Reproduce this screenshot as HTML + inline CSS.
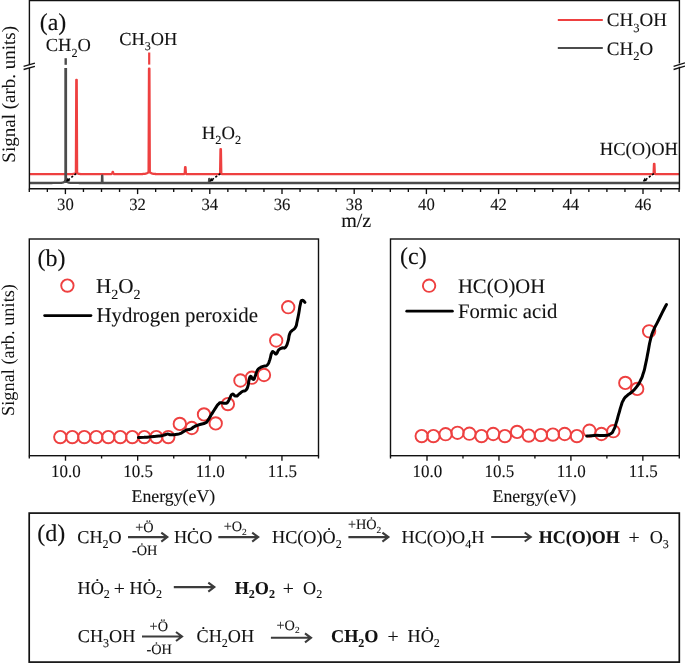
<!DOCTYPE html>
<html lang="en"><head><meta charset="utf-8"><title>Figure</title>
<style>html,body{margin:0;padding:0;background:#fff}svg{display:block}</style></head>
<body>
<svg width="685" height="663" viewBox="0 0 685 663" font-family="Liberation Serif, serif" text-rendering="geometricPrecision">
<rect width="685" height="663" fill="#fff"/>
<path d="M29.4,174.2 L29.9,174.20 L30.4,174.20 L30.9,174.20 L31.4,174.20 L31.9,174.20 L32.4,174.20 L32.9,174.20 L33.4,174.20 L33.9,174.20 L34.4,174.20 L34.9,174.20 L35.4,174.20 L35.9,174.20 L36.4,174.20 L36.9,174.20 L37.4,174.20 L37.9,174.20 L38.4,174.20 L38.9,174.20 L39.4,174.20 L39.9,174.20 L40.4,174.20 L40.9,174.20 L41.4,174.20 L41.9,174.20 L42.4,174.20 L42.9,174.20 L43.4,174.20 L43.9,174.20 L44.4,174.20 L44.9,174.20 L45.4,174.20 L45.9,174.20 L46.4,174.20 L46.9,174.20 L47.4,174.20 L47.9,174.20 L48.4,174.20 L48.9,174.20 L49.4,174.20 L49.9,174.20 L50.4,174.20 L50.9,174.19 L51.4,174.19 L51.9,174.19 L52.4,174.19 L52.9,174.19 L53.4,174.19 L53.9,174.19 L54.4,174.19 L54.9,174.19 L55.4,174.19 L55.9,174.19 L56.4,174.19 L56.9,174.19 L57.4,174.19 L57.9,174.19 L58.4,174.19 L58.9,174.19 L59.4,174.19 L59.9,174.19 L60.4,174.19 L60.9,174.19 L61.4,174.19 L61.9,174.19 L62.4,174.19 L62.9,174.18 L63.4,174.18 L63.9,174.18 L64.4,174.18 L64.9,174.18 L65.4,174.18 L65.9,174.18 L66.4,174.17 L66.9,174.17 L67.4,174.17 L67.9,174.16 L68.4,174.16 L68.9,174.15 L69.4,174.15 L69.9,174.14 L70.4,174.13 L70.9,174.12 L71.4,174.10 L71.9,174.08 L72.4,174.06 L72.9,174.02 L73.4,173.97 L73.9,173.90 L74.4,173.79 L74.9,173.64 L75.9,173.00 L76.3,79.8 L76.7,79.8 L77.1,173.00 L78.0,173.60 L78.5,173.77 L79.0,173.88 L79.5,173.96 L80.0,174.01 L80.5,174.05 L81.0,174.08 L81.5,174.10 L82.0,174.11 L82.5,174.13 L83.0,174.14 L83.5,174.15 L84.0,174.15 L84.5,174.16 L85.0,174.16 L85.5,174.17 L86.0,174.17 L86.5,174.17 L87.0,174.17 L87.5,174.18 L88.0,174.18 L88.5,174.18 L89.0,174.18 L89.5,174.18 L90.0,174.18 L90.5,174.18 L91.0,174.18 L91.5,174.19 L92.0,174.19 L92.5,174.19 L93.0,174.19 L93.5,174.19 L94.0,174.19 L94.5,174.19 L95.0,174.19 L95.5,174.19 L96.0,174.19 L96.5,174.19 L97.0,174.19 L97.5,174.19 L98.0,174.19 L98.5,174.19 L99.0,174.19 L99.5,174.19 L100.0,174.19 L100.5,174.19 L101.0,174.19 L101.5,174.19 L102.0,174.19 L102.5,174.19 L103.0,174.19 L103.5,174.19 L104.0,174.19 L104.5,174.19 L105.0,174.19 L105.5,174.19 L106.0,174.19 L106.5,174.19 L107.0,174.19 L107.5,174.19 L108.0,174.19 L108.5,174.19 L109.0,174.19 L109.5,174.19 L110.0,174.19 L110.5,174.19 L111.0,174.19 L112.2,173.59 L112.6,172.0 L113.0,172.0 L113.39999999999999,173.59 L114.3,174.19 L114.8,174.19 L115.3,174.19 L115.8,174.19 L116.3,174.19 L116.8,174.19 L117.3,174.19 L117.8,174.19 L118.3,174.19 L118.8,174.19 L119.3,174.19 L119.8,174.19 L120.3,174.19 L120.8,174.19 L121.3,174.19 L121.8,174.19 L122.3,174.19 L122.8,174.19 L123.3,174.19 L123.8,174.19 L124.3,174.18 L124.8,174.18 L125.3,174.18 L125.8,174.18 L126.3,174.18 L126.8,174.18 L127.3,174.18 L127.8,174.18 L128.3,174.18 L128.8,174.18 L129.3,174.18 L129.8,174.18 L130.3,174.17 L130.8,174.17 L131.3,174.17 L131.8,174.17 L132.3,174.17 L132.8,174.17 L133.3,174.16 L133.8,174.16 L134.3,174.16 L134.8,174.16 L135.3,174.15 L135.8,174.15 L136.3,174.15 L136.8,174.14 L137.3,174.14 L137.8,174.13 L138.3,174.13 L138.8,174.12 L139.3,174.11 L139.8,174.10 L140.3,174.09 L140.8,174.08 L141.3,174.07 L141.8,174.05 L142.3,174.03 L142.8,174.00 L143.3,173.97 L143.8,173.93 L144.3,173.89 L144.8,173.82 L145.3,173.74 L145.8,173.63 L146.3,173.49 L146.8,173.30 L147.3,173.04 L148.6,172.19 L149.0,68.6 L149.39999999999998,68.6 L149.79999999999998,172.19 L150.7,172.79 L151.2,173.10 L151.7,173.34 L152.2,173.52 L152.7,173.66 L153.2,173.76 L153.7,173.84 L154.2,173.90 L154.7,173.94 L155.2,173.98 L155.7,174.01 L156.2,174.03 L156.7,174.05 L157.2,174.07 L157.7,174.08 L158.2,174.10 L158.7,174.11 L159.2,174.11 L159.7,174.12 L160.2,174.13 L160.7,174.14 L161.2,174.14 L161.7,174.14 L162.2,174.15 L162.7,174.15 L163.2,174.16 L163.7,174.16 L164.2,174.16 L164.7,174.16 L165.2,174.17 L165.7,174.17 L166.2,174.17 L166.7,174.17 L167.2,174.17 L167.7,174.17 L168.2,174.18 L168.7,174.18 L169.2,174.18 L169.7,174.18 L170.2,174.18 L170.7,174.18 L171.2,174.18 L171.7,174.18 L172.2,174.18 L172.7,174.18 L173.2,174.18 L173.7,174.19 L174.2,174.19 L174.7,174.19 L175.2,174.19 L175.7,174.19 L176.2,174.19 L176.7,174.19 L177.2,174.19 L177.7,174.19 L178.2,174.19 L178.7,174.19 L179.2,174.19 L179.7,174.19 L180.2,174.19 L180.7,174.19 L181.2,174.19 L181.7,174.19 L182.2,174.19 L182.7,174.19 L183.2,174.19 L183.7,174.19 L184.70000000000002,173.59 L185.10000000000002,167.1 L185.5,167.1 L185.9,173.59 L186.8,174.19 L187.3,174.19 L187.8,174.19 L188.3,174.19 L188.8,174.19 L189.3,174.19 L189.8,174.19 L190.3,174.19 L190.8,174.19 L191.3,174.19 L191.8,174.19 L192.3,174.20 L192.8,174.20 L193.3,174.20 L193.8,174.20 L194.3,174.20 L194.8,174.20 L195.3,174.20 L195.8,174.20 L196.3,174.20 L196.8,174.20 L197.3,174.20 L197.8,174.20 L198.3,174.20 L198.8,174.20 L199.3,174.20 L199.8,174.20 L200.3,174.20 L200.8,174.20 L201.3,174.20 L201.8,174.20 L202.3,174.20 L202.8,174.20 L203.3,174.20 L203.8,174.20 L204.3,174.20 L204.8,174.20 L205.3,174.20 L205.8,174.20 L206.3,174.20 L206.8,174.20 L207.3,174.20 L207.8,174.20 L208.3,174.20 L208.8,174.20 L209.3,174.20 L209.8,174.20 L210.3,174.20 L210.8,174.20 L211.3,174.20 L211.8,174.20 L212.3,174.20 L212.8,174.20 L213.3,174.20 L213.8,174.20 L214.3,174.20 L214.8,174.20 L215.3,174.20 L215.8,174.20 L216.3,174.20 L216.8,174.20 L217.3,174.20 L217.8,174.20 L218.3,174.20 L218.8,174.20 L220.1,173.60 L220.5,149.2 L220.89999999999998,149.2 L221.29999999999998,173.60 L222.2,174.20 L222.7,174.20 L223.2,174.20 L223.7,174.20 L224.2,174.20 L224.7,174.20 L225.2,174.20 L225.7,174.20 L226.2,174.20 L226.7,174.20 L227.2,174.20 L227.7,174.20 L228.2,174.20 L228.7,174.20 L229.2,174.20 L229.7,174.20 L230.2,174.20 L230.7,174.20 L231.2,174.20 L231.7,174.20 L232.2,174.20 L232.7,174.20 L233.2,174.20 L233.7,174.20 L234.2,174.20 L234.7,174.20 L235.2,174.20 L235.7,174.20 L236.2,174.20 L236.7,174.20 L237.2,174.20 L237.7,174.20 L238.2,174.20 L238.7,174.20 L239.2,174.20 L239.7,174.20 L240.2,174.20 L240.7,174.20 L241.2,174.20 L241.7,174.20 L242.2,174.20 L242.7,174.20 L243.2,174.20 L243.7,174.20 L244.2,174.20 L244.7,174.20 L245.2,174.20 L245.7,174.20 L246.2,174.20 L246.7,174.20 L247.2,174.20 L247.7,174.20 L248.2,174.20 L248.7,174.20 L249.2,174.20 L249.7,174.20 L250.2,174.20 L250.7,174.20 L251.2,174.20 L251.7,174.20 L252.2,174.20 L252.7,174.20 L253.2,174.20 L253.7,174.20 L254.2,174.20 L254.7,174.20 L255.2,174.20 L255.7,174.20 L256.2,174.20 L256.7,174.20 L257.2,174.20 L257.7,174.20 L258.2,174.20 L258.7,174.20 L259.2,174.20 L259.7,174.20 L260.2,174.20 L260.7,174.20 L261.2,174.20 L261.7,174.20 L262.2,174.20 L262.7,174.20 L263.2,174.20 L263.7,174.20 L264.2,174.20 L264.7,174.20 L265.2,174.20 L265.7,174.20 L266.2,174.20 L266.7,174.20 L267.2,174.20 L267.7,174.20 L268.2,174.20 L268.7,174.20 L269.2,174.20 L269.7,174.20 L270.2,174.20 L270.7,174.20 L271.2,174.20 L271.7,174.20 L272.2,174.20 L272.7,174.20 L273.2,174.20 L273.7,174.20 L274.2,174.20 L274.7,174.20 L275.2,174.20 L275.7,174.20 L276.2,174.20 L276.7,174.20 L277.2,174.20 L277.7,174.20 L278.2,174.20 L278.7,174.20 L279.2,174.20 L279.7,174.20 L280.2,174.20 L280.7,174.20 L281.2,174.20 L281.7,174.20 L282.2,174.20 L282.7,174.20 L283.2,174.20 L283.7,174.20 L284.2,174.20 L284.7,174.20 L285.2,174.20 L285.7,174.20 L286.2,174.20 L286.7,174.20 L287.2,174.20 L287.7,174.20 L288.2,174.20 L288.7,174.20 L289.2,174.20 L289.7,174.20 L290.2,174.20 L290.7,174.20 L291.2,174.20 L291.7,174.20 L292.2,174.20 L292.7,174.20 L293.2,174.20 L293.7,174.20 L294.2,174.20 L294.7,174.20 L295.2,174.20 L295.7,174.20 L296.2,174.20 L296.7,174.20 L297.2,174.20 L297.7,174.20 L298.2,174.20 L298.7,174.20 L299.2,174.20 L299.7,174.20 L300.2,174.20 L300.7,174.20 L301.2,174.20 L301.7,174.20 L302.2,174.20 L302.7,174.20 L303.2,174.20 L303.7,174.20 L304.2,174.20 L304.7,174.20 L305.2,174.20 L305.7,174.20 L306.2,174.20 L306.7,174.20 L307.2,174.20 L307.7,174.20 L308.2,174.20 L308.7,174.20 L309.2,174.20 L309.7,174.20 L310.2,174.20 L310.7,174.20 L311.2,174.20 L311.7,174.20 L312.2,174.20 L312.7,174.20 L313.2,174.20 L313.7,174.20 L314.2,174.20 L314.7,174.20 L315.2,174.20 L315.7,174.20 L316.2,174.20 L316.7,174.20 L317.2,174.20 L317.7,174.20 L318.2,174.20 L318.7,174.20 L319.2,174.20 L319.7,174.20 L320.2,174.20 L320.7,174.20 L321.2,174.20 L321.7,174.20 L322.2,174.20 L322.7,174.20 L323.2,174.20 L323.7,174.20 L324.2,174.20 L324.7,174.20 L325.2,174.20 L325.7,174.20 L326.2,174.20 L326.7,174.20 L327.2,174.20 L327.7,174.20 L328.2,174.20 L328.7,174.20 L329.2,174.20 L329.7,174.20 L330.2,174.20 L330.7,174.20 L331.2,174.20 L331.7,174.20 L332.2,174.20 L332.7,174.20 L333.2,174.20 L333.7,174.20 L334.2,174.20 L334.7,174.20 L335.2,174.20 L335.7,174.20 L336.2,174.20 L336.7,174.20 L337.2,174.20 L337.7,174.20 L338.2,174.20 L338.7,174.20 L339.2,174.20 L339.7,174.20 L340.2,174.20 L340.7,174.20 L341.2,174.20 L341.7,174.20 L342.2,174.20 L342.7,174.20 L343.2,174.20 L343.7,174.20 L344.2,174.20 L344.7,174.20 L345.2,174.20 L345.7,174.20 L346.2,174.20 L346.7,174.20 L347.2,174.20 L347.7,174.20 L348.2,174.20 L348.7,174.20 L349.2,174.20 L349.7,174.20 L350.2,174.20 L350.7,174.20 L351.2,174.20 L351.7,174.20 L352.2,174.20 L352.7,174.20 L353.2,174.20 L353.7,174.20 L354.2,174.20 L354.7,174.20 L355.2,174.20 L355.7,174.20 L356.2,174.20 L356.7,174.20 L357.2,174.20 L357.7,174.20 L358.2,174.20 L358.7,174.20 L359.2,174.20 L359.7,174.20 L360.2,174.20 L360.7,174.20 L361.2,174.20 L361.7,174.20 L362.2,174.20 L362.7,174.20 L363.2,174.20 L363.7,174.20 L364.2,174.20 L364.7,174.20 L365.2,174.20 L365.7,174.20 L366.2,174.20 L366.7,174.20 L367.2,174.20 L367.7,174.20 L368.2,174.20 L368.7,174.20 L369.2,174.20 L369.7,174.20 L370.2,174.20 L370.7,174.20 L371.2,174.20 L371.7,174.20 L372.2,174.20 L372.7,174.20 L373.2,174.20 L373.7,174.20 L374.2,174.20 L374.7,174.20 L375.2,174.20 L375.7,174.20 L376.2,174.20 L376.7,174.20 L377.2,174.20 L377.7,174.20 L378.2,174.20 L378.7,174.20 L379.2,174.20 L379.7,174.20 L380.2,174.20 L380.7,174.20 L381.2,174.20 L381.7,174.20 L382.2,174.20 L382.7,174.20 L383.2,174.20 L383.7,174.20 L384.2,174.20 L384.7,174.20 L385.2,174.20 L385.7,174.20 L386.2,174.20 L386.7,174.20 L387.2,174.20 L387.7,174.20 L388.2,174.20 L388.7,174.20 L389.2,174.20 L389.7,174.20 L390.2,174.20 L390.7,174.20 L391.2,174.20 L391.7,174.20 L392.2,174.20 L392.7,174.20 L393.2,174.20 L393.7,174.20 L394.2,174.20 L394.7,174.20 L395.2,174.20 L395.7,174.20 L396.2,174.20 L396.7,174.20 L397.2,174.20 L397.7,174.20 L398.2,174.20 L398.7,174.20 L399.2,174.20 L399.7,174.20 L400.2,174.20 L400.7,174.20 L401.2,174.20 L401.7,174.20 L402.2,174.20 L402.7,174.20 L403.2,174.20 L403.7,174.20 L404.2,174.20 L404.7,174.20 L405.2,174.20 L405.7,174.20 L406.2,174.20 L406.7,174.20 L407.2,174.20 L407.7,174.20 L408.2,174.20 L408.7,174.20 L409.2,174.20 L409.7,174.20 L410.2,174.20 L410.7,174.20 L411.2,174.20 L411.7,174.20 L412.2,174.20 L412.7,174.20 L413.2,174.20 L413.7,174.20 L414.2,174.20 L414.7,174.20 L415.2,174.20 L415.7,174.20 L416.2,174.20 L416.7,174.20 L417.2,174.20 L417.7,174.20 L418.2,174.20 L418.7,174.20 L419.2,174.20 L419.7,174.20 L420.2,174.20 L420.7,174.20 L421.2,174.20 L421.7,174.20 L422.2,174.20 L422.7,174.20 L423.2,174.20 L423.7,174.20 L424.2,174.20 L424.7,174.20 L425.2,174.20 L425.7,174.20 L426.2,174.20 L426.7,174.20 L427.2,174.20 L427.7,174.20 L428.2,174.20 L428.7,174.20 L429.2,174.20 L429.7,174.20 L430.2,174.20 L430.7,174.20 L431.2,174.20 L431.7,174.20 L432.2,174.20 L432.7,174.20 L433.2,174.20 L433.7,174.20 L434.2,174.20 L434.7,174.20 L435.2,174.20 L435.7,174.20 L436.2,174.20 L436.7,174.20 L437.2,174.20 L437.7,174.20 L438.2,174.20 L438.7,174.20 L439.2,174.20 L439.7,174.20 L440.2,174.20 L440.7,174.20 L441.2,174.20 L441.7,174.20 L442.2,174.20 L442.7,174.20 L443.2,174.20 L443.7,174.20 L444.2,174.20 L444.7,174.20 L445.2,174.20 L445.7,174.20 L446.2,174.20 L446.7,174.20 L447.2,174.20 L447.7,174.20 L448.2,174.20 L448.7,174.20 L449.2,174.20 L449.7,174.20 L450.2,174.20 L450.7,174.20 L451.2,174.20 L451.7,174.20 L452.2,174.20 L452.7,174.20 L453.2,174.20 L453.7,174.20 L454.2,174.20 L454.7,174.20 L455.2,174.20 L455.7,174.20 L456.2,174.20 L456.7,174.20 L457.2,174.20 L457.7,174.20 L458.2,174.20 L458.7,174.20 L459.2,174.20 L459.7,174.20 L460.2,174.20 L460.7,174.20 L461.2,174.20 L461.7,174.20 L462.2,174.20 L462.7,174.20 L463.2,174.20 L463.7,174.20 L464.2,174.20 L464.7,174.20 L465.2,174.20 L465.7,174.20 L466.2,174.20 L466.7,174.20 L467.2,174.20 L467.7,174.20 L468.2,174.20 L468.7,174.20 L469.2,174.20 L469.7,174.20 L470.2,174.20 L470.7,174.20 L471.2,174.20 L471.7,174.20 L472.2,174.20 L472.7,174.20 L473.2,174.20 L473.7,174.20 L474.2,174.20 L474.7,174.20 L475.2,174.20 L475.7,174.20 L476.2,174.20 L476.7,174.20 L477.2,174.20 L477.7,174.20 L478.2,174.20 L478.7,174.20 L479.2,174.20 L479.7,174.20 L480.2,174.20 L480.7,174.20 L481.2,174.20 L481.7,174.20 L482.2,174.20 L482.7,174.20 L483.2,174.20 L483.7,174.20 L484.2,174.20 L484.7,174.20 L485.2,174.20 L485.7,174.20 L486.2,174.20 L486.7,174.20 L487.2,174.20 L487.7,174.20 L488.2,174.20 L488.7,174.20 L489.2,174.20 L489.7,174.20 L490.2,174.20 L490.7,174.20 L491.2,174.20 L491.7,174.20 L492.2,174.20 L492.7,174.20 L493.2,174.20 L493.7,174.20 L494.2,174.20 L494.7,174.20 L495.2,174.20 L495.7,174.20 L496.2,174.20 L496.7,174.20 L497.2,174.20 L497.7,174.20 L498.2,174.20 L498.7,174.20 L499.2,174.20 L499.7,174.20 L500.2,174.20 L500.7,174.20 L501.2,174.20 L501.7,174.20 L502.2,174.20 L502.7,174.20 L503.2,174.20 L503.7,174.20 L504.2,174.20 L504.7,174.20 L505.2,174.20 L505.7,174.20 L506.2,174.20 L506.7,174.20 L507.2,174.20 L507.7,174.20 L508.2,174.20 L508.7,174.20 L509.2,174.20 L509.7,174.20 L510.2,174.20 L510.7,174.20 L511.2,174.20 L511.7,174.20 L512.2,174.20 L512.7,174.20 L513.2,174.20 L513.7,174.20 L514.2,174.20 L514.7,174.20 L515.2,174.20 L515.7,174.20 L516.2,174.20 L516.7,174.20 L517.2,174.20 L517.7,174.20 L518.2,174.20 L518.7,174.20 L519.2,174.20 L519.7,174.20 L520.2,174.20 L520.7,174.20 L521.2,174.20 L521.7,174.20 L522.2,174.20 L522.7,174.20 L523.2,174.20 L523.7,174.20 L524.2,174.20 L524.7,174.20 L525.2,174.20 L525.7,174.20 L526.2,174.20 L526.7,174.20 L527.2,174.20 L527.7,174.20 L528.2,174.20 L528.7,174.20 L529.2,174.20 L529.7,174.20 L530.2,174.20 L530.7,174.20 L531.2,174.20 L531.7,174.20 L532.2,174.20 L532.7,174.20 L533.2,174.20 L533.7,174.20 L534.2,174.20 L534.7,174.20 L535.2,174.20 L535.7,174.20 L536.2,174.20 L536.7,174.20 L537.2,174.20 L537.7,174.20 L538.2,174.20 L538.7,174.20 L539.2,174.20 L539.7,174.20 L540.2,174.20 L540.7,174.20 L541.2,174.20 L541.7,174.20 L542.2,174.20 L542.7,174.20 L543.2,174.20 L543.7,174.20 L544.2,174.20 L544.7,174.20 L545.2,174.20 L545.7,174.20 L546.2,174.20 L546.7,174.20 L547.2,174.20 L547.7,174.20 L548.2,174.20 L548.7,174.20 L549.2,174.20 L549.7,174.20 L550.2,174.20 L550.7,174.20 L551.2,174.20 L551.7,174.20 L552.2,174.20 L552.7,174.20 L553.2,174.20 L553.7,174.20 L554.2,174.20 L554.7,174.20 L555.2,174.20 L555.7,174.20 L556.2,174.20 L556.7,174.20 L557.2,174.20 L557.7,174.20 L558.2,174.20 L558.7,174.20 L559.2,174.20 L559.7,174.20 L560.2,174.20 L560.7,174.20 L561.2,174.20 L561.7,174.20 L562.2,174.20 L562.7,174.20 L563.2,174.20 L563.7,174.20 L564.2,174.20 L564.7,174.20 L565.2,174.20 L565.7,174.20 L566.2,174.20 L566.7,174.20 L567.2,174.20 L567.7,174.20 L568.2,174.20 L568.7,174.20 L569.2,174.20 L569.7,174.20 L570.2,174.20 L570.7,174.20 L571.2,174.20 L571.7,174.20 L572.2,174.20 L572.7,174.20 L573.2,174.20 L573.7,174.20 L574.2,174.20 L574.7,174.20 L575.2,174.20 L575.7,174.20 L576.2,174.20 L576.7,174.20 L577.2,174.20 L577.7,174.20 L578.2,174.20 L578.7,174.20 L579.2,174.20 L579.7,174.20 L580.2,174.20 L580.7,174.20 L581.2,174.20 L581.7,174.20 L582.2,174.20 L582.7,174.20 L583.2,174.20 L583.7,174.20 L584.2,174.20 L584.7,174.20 L585.2,174.20 L585.7,174.20 L586.2,174.20 L586.7,174.20 L587.2,174.20 L587.7,174.20 L588.2,174.20 L588.7,174.20 L589.2,174.20 L589.7,174.20 L590.2,174.20 L590.7,174.20 L591.2,174.20 L591.7,174.20 L592.2,174.20 L592.7,174.20 L593.2,174.20 L593.7,174.20 L594.2,174.20 L594.7,174.20 L595.2,174.20 L595.7,174.20 L596.2,174.20 L596.7,174.20 L597.2,174.20 L597.7,174.20 L598.2,174.20 L598.7,174.20 L599.2,174.20 L599.7,174.20 L600.2,174.20 L600.7,174.20 L601.2,174.20 L601.7,174.20 L602.2,174.20 L602.7,174.20 L603.2,174.20 L603.7,174.20 L604.2,174.20 L604.7,174.20 L605.2,174.20 L605.7,174.20 L606.2,174.20 L606.7,174.20 L607.2,174.20 L607.7,174.20 L608.2,174.20 L608.7,174.20 L609.2,174.20 L609.7,174.20 L610.2,174.20 L610.7,174.20 L611.2,174.20 L611.7,174.20 L612.2,174.20 L612.7,174.20 L613.2,174.20 L613.7,174.20 L614.2,174.20 L614.7,174.20 L615.2,174.20 L615.7,174.20 L616.2,174.20 L616.7,174.20 L617.2,174.20 L617.7,174.20 L618.2,174.20 L618.7,174.20 L619.2,174.20 L619.7,174.20 L620.2,174.20 L620.7,174.20 L621.2,174.20 L621.7,174.20 L622.2,174.20 L622.7,174.20 L623.2,174.20 L623.7,174.20 L624.2,174.20 L624.7,174.20 L625.2,174.20 L625.7,174.20 L626.2,174.20 L626.7,174.20 L627.2,174.20 L627.7,174.20 L628.2,174.20 L628.7,174.20 L629.2,174.20 L629.7,174.20 L630.2,174.20 L630.7,174.20 L631.2,174.20 L631.7,174.20 L632.2,174.20 L632.7,174.20 L633.2,174.20 L633.7,174.20 L634.2,174.20 L634.7,174.20 L635.2,174.20 L635.7,174.20 L636.2,174.20 L636.7,174.20 L637.2,174.20 L637.7,174.20 L638.2,174.20 L638.7,174.20 L639.2,174.20 L639.7,174.20 L640.2,174.20 L640.7,174.20 L641.2,174.20 L641.7,174.20 L642.2,174.20 L642.7,174.20 L643.2,174.20 L643.7,174.20 L644.2,174.20 L644.7,174.20 L645.2,174.20 L645.7,174.20 L646.2,174.20 L646.7,174.20 L647.2,174.20 L647.7,174.20 L648.2,174.20 L648.7,174.20 L649.2,174.20 L649.7,174.20 L650.2,174.20 L650.7,174.20 L651.2,174.20 L651.7,174.20 L652.2,174.20 L653.6,173.60 L654.0,163.8 L654.4000000000001,163.8 L654.8000000000001,173.60 L655.7,174.20 L657.7,174.20 L659.7,174.20 L661.7,174.20 L663.7,174.20 L665.7,174.20 L667.7,174.20 L669.7,174.20 L671.7,174.20 L673.7,174.20 L675.7,174.20 L677.7,174.20 L679.4,174.2" fill="none" stroke="#ee4040" stroke-width="2.3" stroke-linejoin="round"/>
<line x1="149.2" y1="52.5" x2="149.2" y2="64.6" stroke="#ee4040" stroke-width="2.2"/>
<path d="M29.4,183.0 L29.8,183.00 L30.2,183.00 L30.6,183.00 L31.0,183.00 L31.4,183.00 L31.8,183.00 L32.2,183.00 L32.6,183.00 L33.0,183.00 L33.4,183.00 L33.8,183.00 L34.2,183.00 L34.6,183.00 L35.0,183.00 L35.4,183.00 L35.8,183.00 L36.2,182.99 L36.6,182.99 L37.0,182.99 L37.4,182.99 L37.8,182.99 L38.2,182.99 L38.6,182.99 L39.0,182.99 L39.4,182.99 L39.8,182.99 L40.2,182.99 L40.6,182.99 L41.0,182.99 L41.4,182.99 L41.8,182.99 L42.2,182.99 L42.6,182.99 L43.0,182.99 L43.4,182.99 L43.8,182.99 L44.2,182.99 L44.6,182.99 L45.0,182.99 L45.4,182.99 L45.8,182.99 L46.2,182.99 L46.6,182.99 L47.0,182.99 L47.4,182.99 L47.8,182.99 L48.2,182.99 L48.6,182.99 L49.0,182.98 L49.4,182.98 L49.8,182.98 L50.2,182.98 L50.6,182.98 L51.0,182.98 L51.4,182.98 L51.8,182.98 L52.2,182.98 L52.6,182.97 L53.0,182.97 L53.4,182.97 L53.8,182.97 L54.2,182.97 L54.6,182.96 L55.0,182.96 L55.4,182.96 L55.8,182.96 L56.2,182.95 L56.6,182.95 L57.0,182.94 L57.4,182.94 L57.8,182.93 L58.2,182.92 L58.6,182.92 L59.0,182.91 L59.4,182.89 L59.8,182.88 L60.2,182.86 L60.6,182.84 L61.0,182.82 L61.4,182.78 L61.8,182.74 L62.2,182.68 L62.6,182.61 L63.0,182.51 L63.4,182.37 L63.8,182.17 L64.2,181.88 L64.6,181.48 L65.0,180.98 L65.4,180.53 L65.8,180.42 L66.2,180.74 L66.6,181.24 L67.0,181.70 L67.4,182.04 L67.8,182.28 L68.2,182.45 L68.6,182.56 L69.0,182.65 L69.4,182.71 L69.8,182.76 L70.2,182.80 L70.6,182.83 L71.0,182.85 L71.4,182.87 L71.8,182.89 L72.2,182.90 L72.6,182.91 L73.0,182.92 L73.4,182.93 L73.8,182.93 L74.2,182.94 L74.6,182.95 L75.0,182.95 L75.4,182.95 L75.8,182.96 L76.2,182.96 L76.6,182.96 L77.0,182.97 L77.4,182.97 L77.8,182.97 L78.2,182.97 L78.6,182.97 L79.0,182.98 L79.4,182.98 L79.8,182.98 L80.2,182.98 L80.6,182.98 L81.0,182.98 L81.4,182.98 L81.8,182.98 L82.2,182.98 L82.6,182.98 L83.0,182.99 L83.4,182.99 L83.8,182.99 L84.2,182.99 L84.6,182.99 L85.0,182.99 L85.4,182.99 L85.8,182.99 L86.2,182.99 L86.6,182.99 L87.0,182.99 L87.4,182.99 L87.8,182.99 L88.2,182.99 L88.6,182.99 L89.0,182.99 L89.4,182.99 L89.8,182.99 L90.2,182.99 L90.6,182.99 L91.0,182.99 L91.4,182.99 L91.8,182.99 L92.2,182.99 L92.6,182.99 L93.0,182.99 L93.4,182.99 L93.8,182.99 L94.2,182.99 L94.6,182.99 L95.0,182.99 L95.4,183.00 L95.8,183.00 L96.2,183.00 L96.6,183.00 L97.0,183.00 L97.4,183.00 L97.8,183.00 L98.2,183.00 L98.6,183.00 L99.0,183.00 L99.4,183.00 L99.8,183.00 L100.2,183.00 L100.6,183.00 L101.0,183.00 L101.4,183.00 L101.9,183.0 L102.1,175.6 L102.3,175.6 L102.5,183.0 L208.9,183.0 L209.2,178.8 L209.3,178.8 L209.6,183.0 L679.4,183.0" fill="none" stroke="#4c4c4c" stroke-width="2.3" stroke-linejoin="round"/>
<line x1="65.7" y1="68.0" x2="65.7" y2="183.0" stroke="#4c4c4c" stroke-width="2.8"/>
<line x1="65.7" y1="58.2" x2="65.7" y2="64.8" stroke="#4c4c4c" stroke-width="2.4"/>
<line x1="76.2" y1="173.6" x2="66.9" y2="180.9" stroke="#000" stroke-width="1.6" stroke-dasharray="2.2,1.8"/>
<path d="M66.0,181.6 L67.6,177.8 L70.1,180.9 Z" fill="#000"/>
<line x1="220.4" y1="173.6" x2="210.3" y2="180.9" stroke="#000" stroke-width="1.6" stroke-dasharray="2.2,1.8"/>
<path d="M209.3,181.6 L211.1,177.8 L213.5,181.1 Z" fill="#000"/>
<line x1="653.9" y1="173.6" x2="643.8" y2="180.9" stroke="#000" stroke-width="1.6" stroke-dasharray="2.2,1.8"/>
<path d="M642.8,181.6 L644.6,177.8 L647.0,181.1 Z" fill="#000"/>
<path d="M29.4,64.7 V0.6 H679.4 V63.6 M679.4,66.8 V188.8 H29.4 V67.9" fill="none" stroke="#111" stroke-width="1.4" stroke-linejoin="miter"/>
<line x1="23.6" y1="66.3" x2="34.9" y2="63.1" stroke="#111" stroke-width="1.35"/>
<line x1="673.6" y1="66.3" x2="685" y2="62.9" stroke="#111" stroke-width="1.35"/>
<line x1="23.6" y1="69.5" x2="34.9" y2="66.3" stroke="#111" stroke-width="1.35"/>
<line x1="673.6" y1="69.5" x2="685" y2="66.1" stroke="#111" stroke-width="1.35"/>
<line x1="29.30" y1="188.8" x2="29.30" y2="192.0" stroke="#111" stroke-width="1.35"/>
<line x1="47.35" y1="188.8" x2="47.35" y2="192.0" stroke="#111" stroke-width="1.35"/>
<line x1="65.40" y1="188.8" x2="65.40" y2="194.10000000000002" stroke="#111" stroke-width="1.35"/>
<line x1="83.45" y1="188.8" x2="83.45" y2="192.0" stroke="#111" stroke-width="1.35"/>
<line x1="101.50" y1="188.8" x2="101.50" y2="192.0" stroke="#111" stroke-width="1.35"/>
<line x1="119.55" y1="188.8" x2="119.55" y2="192.0" stroke="#111" stroke-width="1.35"/>
<line x1="137.60" y1="188.8" x2="137.60" y2="194.10000000000002" stroke="#111" stroke-width="1.35"/>
<line x1="155.65" y1="188.8" x2="155.65" y2="192.0" stroke="#111" stroke-width="1.35"/>
<line x1="173.70" y1="188.8" x2="173.70" y2="192.0" stroke="#111" stroke-width="1.35"/>
<line x1="191.75" y1="188.8" x2="191.75" y2="192.0" stroke="#111" stroke-width="1.35"/>
<line x1="209.80" y1="188.8" x2="209.80" y2="194.10000000000002" stroke="#111" stroke-width="1.35"/>
<line x1="227.85" y1="188.8" x2="227.85" y2="192.0" stroke="#111" stroke-width="1.35"/>
<line x1="245.90" y1="188.8" x2="245.90" y2="192.0" stroke="#111" stroke-width="1.35"/>
<line x1="263.95" y1="188.8" x2="263.95" y2="192.0" stroke="#111" stroke-width="1.35"/>
<line x1="282.00" y1="188.8" x2="282.00" y2="194.10000000000002" stroke="#111" stroke-width="1.35"/>
<line x1="300.05" y1="188.8" x2="300.05" y2="192.0" stroke="#111" stroke-width="1.35"/>
<line x1="318.10" y1="188.8" x2="318.10" y2="192.0" stroke="#111" stroke-width="1.35"/>
<line x1="336.15" y1="188.8" x2="336.15" y2="192.0" stroke="#111" stroke-width="1.35"/>
<line x1="354.20" y1="188.8" x2="354.20" y2="194.10000000000002" stroke="#111" stroke-width="1.35"/>
<line x1="372.25" y1="188.8" x2="372.25" y2="192.0" stroke="#111" stroke-width="1.35"/>
<line x1="390.30" y1="188.8" x2="390.30" y2="192.0" stroke="#111" stroke-width="1.35"/>
<line x1="408.35" y1="188.8" x2="408.35" y2="192.0" stroke="#111" stroke-width="1.35"/>
<line x1="426.40" y1="188.8" x2="426.40" y2="194.10000000000002" stroke="#111" stroke-width="1.35"/>
<line x1="444.45" y1="188.8" x2="444.45" y2="192.0" stroke="#111" stroke-width="1.35"/>
<line x1="462.50" y1="188.8" x2="462.50" y2="192.0" stroke="#111" stroke-width="1.35"/>
<line x1="480.55" y1="188.8" x2="480.55" y2="192.0" stroke="#111" stroke-width="1.35"/>
<line x1="498.60" y1="188.8" x2="498.60" y2="194.10000000000002" stroke="#111" stroke-width="1.35"/>
<line x1="516.65" y1="188.8" x2="516.65" y2="192.0" stroke="#111" stroke-width="1.35"/>
<line x1="534.70" y1="188.8" x2="534.70" y2="192.0" stroke="#111" stroke-width="1.35"/>
<line x1="552.75" y1="188.8" x2="552.75" y2="192.0" stroke="#111" stroke-width="1.35"/>
<line x1="570.80" y1="188.8" x2="570.80" y2="194.10000000000002" stroke="#111" stroke-width="1.35"/>
<line x1="588.85" y1="188.8" x2="588.85" y2="192.0" stroke="#111" stroke-width="1.35"/>
<line x1="606.90" y1="188.8" x2="606.90" y2="192.0" stroke="#111" stroke-width="1.35"/>
<line x1="624.95" y1="188.8" x2="624.95" y2="192.0" stroke="#111" stroke-width="1.35"/>
<line x1="643.00" y1="188.8" x2="643.00" y2="194.10000000000002" stroke="#111" stroke-width="1.35"/>
<line x1="661.05" y1="188.8" x2="661.05" y2="192.0" stroke="#111" stroke-width="1.35"/>
<line x1="679.10" y1="188.8" x2="679.10" y2="192.0" stroke="#111" stroke-width="1.35"/>
<text transform="translate(65.4,209.5) scale(0.98,1.01)" font-size="17" text-anchor="middle" fill="#111" stroke="#111" stroke-width="0.1">30</text>
<text transform="translate(137.6,209.5) scale(0.98,1.01)" font-size="17" text-anchor="middle" fill="#111" stroke="#111" stroke-width="0.1">32</text>
<text transform="translate(209.8,209.5) scale(0.98,1.01)" font-size="17" text-anchor="middle" fill="#111" stroke="#111" stroke-width="0.1">34</text>
<text transform="translate(282.0,209.5) scale(0.98,1.01)" font-size="17" text-anchor="middle" fill="#111" stroke="#111" stroke-width="0.1">36</text>
<text transform="translate(354.2,209.5) scale(0.98,1.01)" font-size="17" text-anchor="middle" fill="#111" stroke="#111" stroke-width="0.1">38</text>
<text transform="translate(426.4,209.5) scale(0.98,1.01)" font-size="17" text-anchor="middle" fill="#111" stroke="#111" stroke-width="0.1">40</text>
<text transform="translate(498.6,209.5) scale(0.98,1.01)" font-size="17" text-anchor="middle" fill="#111" stroke="#111" stroke-width="0.1">42</text>
<text transform="translate(570.8,209.5) scale(0.98,1.01)" font-size="17" text-anchor="middle" fill="#111" stroke="#111" stroke-width="0.1">44</text>
<text transform="translate(643.0,209.5) scale(0.98,1.01)" font-size="17" text-anchor="middle" fill="#111" stroke="#111" stroke-width="0.1">46</text>
<text x="356.2" y="227.2" font-size="20.1" text-anchor="middle" fill="#111" stroke="#111" stroke-width="0.1" >m/z</text>
<text transform="translate(15,94.3) rotate(-90)" font-size="19" text-anchor="middle" fill="#111">Signal (arb. units)</text>
<text x="39.7" y="30.2" font-size="24" text-anchor="start" fill="#111" stroke="#111" stroke-width="0.1" >(a)</text>
<text x="45.7" y="51.3" font-size="18.5" text-anchor="start" fill="#111" stroke="#111" stroke-width="0.1" >CH<tspan dy="5.36" font-size="12.21">2</tspan><tspan dy="-5.36">O</tspan></text>
<text x="119.3" y="45.1" font-size="18.35" text-anchor="start" fill="#111" stroke="#111" stroke-width="0.1" >CH<tspan dy="5.32" font-size="12.11">3</tspan><tspan dy="-5.32">O</tspan>H</text>
<text x="201.8" y="138.9" font-size="18.7" text-anchor="start" fill="#111" stroke="#111" stroke-width="0.1" >H<tspan dy="5.42" font-size="12.34">2</tspan><tspan dy="-5.42">O</tspan><tspan dy="5.42" font-size="12.34">2</tspan></text>
<text x="599.8" y="154.7" font-size="18.5" text-anchor="start" fill="#111" stroke="#111" stroke-width="0.1" >HC(O)OH</text>
<line x1="557.8" y1="19.9" x2="602.8" y2="19.9" stroke="#ee4040" stroke-width="2"/>
<line x1="557.8" y1="48.1" x2="602.8" y2="48.1" stroke="#4c4c4c" stroke-width="2"/>
<text x="606.8" y="26.4" font-size="19" text-anchor="start" fill="#111" stroke="#111" stroke-width="0.1" >CH<tspan dy="5.51" font-size="12.54">3</tspan><tspan dy="-5.51">O</tspan>H</text>
<text x="606.8" y="54.8" font-size="19" text-anchor="start" fill="#111" stroke="#111" stroke-width="0.1" >CH<tspan dy="5.51" font-size="12.54">2</tspan><tspan dy="-5.51">O</tspan></text>
<rect x="29.3" y="239" width="289.2" height="216.7" fill="none" stroke="#111" stroke-width="1.4"/>
<line x1="29.30" y1="455.7" x2="29.30" y2="458.5" stroke="#111" stroke-width="1.35"/>
<line x1="65.50" y1="455.7" x2="65.50" y2="460.7" stroke="#111" stroke-width="1.35"/>
<text transform="translate(65.9,477.4) scale(1.0,1.04)" font-size="17" text-anchor="middle" fill="#111" stroke="#111" stroke-width="0.1">10.0</text>
<line x1="101.58" y1="455.7" x2="101.58" y2="458.5" stroke="#111" stroke-width="1.35"/>
<line x1="137.65" y1="455.7" x2="137.65" y2="460.7" stroke="#111" stroke-width="1.35"/>
<text transform="translate(138.1,477.4) scale(1.0,1.04)" font-size="17" text-anchor="middle" fill="#111" stroke="#111" stroke-width="0.1">10.5</text>
<line x1="173.73" y1="455.7" x2="173.73" y2="458.5" stroke="#111" stroke-width="1.35"/>
<line x1="209.80" y1="455.7" x2="209.80" y2="460.7" stroke="#111" stroke-width="1.35"/>
<text transform="translate(210.2,477.4) scale(1.0,1.04)" font-size="17" text-anchor="middle" fill="#111" stroke="#111" stroke-width="0.1">11.0</text>
<line x1="245.88" y1="455.7" x2="245.88" y2="458.5" stroke="#111" stroke-width="1.35"/>
<line x1="281.95" y1="455.7" x2="281.95" y2="460.7" stroke="#111" stroke-width="1.35"/>
<text transform="translate(282.4,477.4) scale(1.0,1.04)" font-size="17" text-anchor="middle" fill="#111" stroke="#111" stroke-width="0.1">11.5</text>
<line x1="318.50" y1="455.7" x2="318.50" y2="458.5" stroke="#111" stroke-width="1.35"/>
<text x="173.4" y="502.3" font-size="17.8" text-anchor="middle" fill="#111" stroke="#111" stroke-width="0.1" >Energy(eV)</text>
<text x="37.6" y="266" font-size="24" text-anchor="start" fill="#111" stroke="#111" stroke-width="0.1" >(b)</text>
<text transform="translate(14.3,350) rotate(-90)" font-size="18.35" text-anchor="middle" fill="#111">Signal (arb. units)</text>
<circle cx="60.3" cy="437.1" r="6.2" fill="none" stroke="#ee4040" stroke-width="1.9"/>
<circle cx="72.3" cy="437.1" r="6.2" fill="none" stroke="#ee4040" stroke-width="1.9"/>
<circle cx="84.3" cy="437.1" r="6.2" fill="none" stroke="#ee4040" stroke-width="1.9"/>
<circle cx="96.3" cy="437.1" r="6.2" fill="none" stroke="#ee4040" stroke-width="1.9"/>
<circle cx="108.3" cy="437.1" r="6.2" fill="none" stroke="#ee4040" stroke-width="1.9"/>
<circle cx="120.3" cy="437.1" r="6.2" fill="none" stroke="#ee4040" stroke-width="1.9"/>
<circle cx="132.3" cy="437.1" r="6.2" fill="none" stroke="#ee4040" stroke-width="1.9"/>
<circle cx="144.3" cy="437.1" r="6.2" fill="none" stroke="#ee4040" stroke-width="1.9"/>
<circle cx="156.3" cy="437.1" r="6.2" fill="none" stroke="#ee4040" stroke-width="1.9"/>
<circle cx="168.3" cy="437.1" r="6.2" fill="none" stroke="#ee4040" stroke-width="1.9"/>
<circle cx="179.8" cy="423.9" r="6.2" fill="none" stroke="#ee4040" stroke-width="1.9"/>
<circle cx="191.8" cy="428.0" r="6.2" fill="none" stroke="#ee4040" stroke-width="1.9"/>
<circle cx="204.0" cy="414.4" r="6.2" fill="none" stroke="#ee4040" stroke-width="1.9"/>
<circle cx="215.7" cy="423.4" r="6.2" fill="none" stroke="#ee4040" stroke-width="1.9"/>
<circle cx="227.9" cy="404.1" r="6.2" fill="none" stroke="#ee4040" stroke-width="1.9"/>
<circle cx="240.4" cy="380.5" r="6.2" fill="none" stroke="#ee4040" stroke-width="1.9"/>
<circle cx="251.8" cy="377.7" r="6.2" fill="none" stroke="#ee4040" stroke-width="1.9"/>
<circle cx="264.0" cy="375.0" r="6.2" fill="none" stroke="#ee4040" stroke-width="1.9"/>
<circle cx="276.2" cy="340.5" r="6.2" fill="none" stroke="#ee4040" stroke-width="1.9"/>
<circle cx="288.2" cy="307.2" r="6.2" fill="none" stroke="#ee4040" stroke-width="1.9"/>
<path d="M138.4,437.4 C140.3,437.4 139.8,437.5 144.0,437.3 C148.2,437.0 146.9,437.1 151.0,436.7 C155.1,436.4 152.8,436.5 156.3,436.2 C159.8,435.9 158.6,436.3 161.5,435.8 C164.4,435.4 163.0,435.4 165.0,434.8 C167.1,434.2 165.6,434.1 167.7,434.1 C169.7,434.1 168.5,434.7 171.2,434.8 C173.8,434.9 172.6,434.8 175.5,434.4 C178.5,434.1 177.3,434.7 179.9,433.7 C182.5,432.8 181.1,432.9 183.4,431.6 C185.8,430.4 184.6,430.7 186.9,429.9 C189.3,429.1 188.1,430.2 190.4,429.2 C192.8,428.2 191.6,428.2 193.9,426.9 C196.3,425.6 195.1,426.2 197.4,425.3 C199.8,424.5 198.3,425.1 200.9,424.3 C203.6,423.5 203.0,424.2 205.3,422.9 C207.6,421.6 206.2,422.8 207.9,420.4 C209.7,418.1 208.8,418.8 210.6,415.9 C212.3,413.0 211.4,414.4 213.2,411.7 C214.9,408.9 214.1,410.2 215.8,407.7 C217.6,405.1 216.7,405.8 218.4,404.2 C220.2,402.5 218.7,403.0 221.1,402.7 C223.4,402.5 223.1,403.7 225.4,403.3 C227.8,402.9 226.6,403.4 228.1,401.5 C229.6,399.7 228.5,400.3 230.0,397.8 C231.4,395.3 230.5,394.7 232.4,394.1 C234.4,393.6 233.5,396.1 235.8,396.1 C238.0,396.1 236.9,395.7 239.1,394.1 C241.3,392.6 240.2,392.8 242.4,391.5 C244.6,390.2 243.9,392.1 245.7,390.3 C247.5,388.6 246.8,389.5 247.9,386.2 C249.0,382.9 248.1,383.7 249.0,380.4 C250.0,377.1 249.3,376.5 250.7,376.2 C252.1,376.0 251.7,379.6 253.2,379.6 C254.7,379.6 253.8,379.3 255.2,376.2 C256.5,373.2 255.8,373.2 257.3,370.4 C258.9,367.7 257.9,369.3 259.8,367.9 C261.7,366.6 260.6,367.3 263.1,366.3 C265.6,365.3 265.1,367.2 267.3,365.0 C269.5,362.7 268.3,363.6 269.8,359.7 C271.2,355.7 270.4,355.5 271.7,353.0 C273.1,350.5 272.3,351.9 273.9,352.2 C275.4,352.5 274.7,354.7 276.4,353.8 C278.0,353.0 276.9,351.6 278.9,349.7 C280.8,347.8 280.0,348.9 282.2,348.0 C284.4,347.2 283.6,349.4 285.5,347.2 C287.4,345.0 286.6,345.8 288.0,341.4 C289.4,337.0 288.3,337.5 289.7,333.9 C291.0,330.4 290.2,332.8 292.1,330.6 C294.1,328.4 293.8,330.4 295.5,327.3 C297.1,324.3 296.0,326.2 297.1,321.5 C298.2,316.8 297.7,319.0 298.8,313.2 C299.9,307.4 299.3,308.4 300.4,304.1 C301.5,299.8 300.6,300.8 302.1,300.3 C303.6,299.7 304.0,301.7 304.9,302.4" fill="none" stroke="#000" stroke-width="3" stroke-linejoin="round" stroke-linecap="round"/>
<circle cx="67.4" cy="285.6" r="6.2" fill="none" stroke="#ee4040" stroke-width="1.9"/>
<text x="95.9" y="293.3" font-size="21.2" text-anchor="start" fill="#111" stroke="#111" stroke-width="0.1" >H<tspan dy="6.15" font-size="13.99">2</tspan><tspan dy="-6.15">O</tspan><tspan dy="6.15" font-size="13.99">2</tspan></text>
<line x1="44.6" y1="315.6" x2="91.0" y2="315.6" stroke="#000" stroke-width="2.7" stroke-linecap="round"/>
<text x="96.5" y="322.4" font-size="20.85" text-anchor="start" fill="#111" stroke="#111" stroke-width="0.1" >Hydrogen peroxide</text>
<rect x="390.5" y="239" width="288.79999999999995" height="216.7" fill="none" stroke="#111" stroke-width="1.4"/>
<line x1="390.50" y1="455.7" x2="390.50" y2="458.5" stroke="#111" stroke-width="1.35"/>
<line x1="427.00" y1="455.7" x2="427.00" y2="460.7" stroke="#111" stroke-width="1.35"/>
<text transform="translate(427.4,477.4) scale(1.0,1.04)" font-size="17" text-anchor="middle" fill="#111" stroke="#111" stroke-width="0.1">10.0</text>
<line x1="462.98" y1="455.7" x2="462.98" y2="458.5" stroke="#111" stroke-width="1.35"/>
<line x1="498.95" y1="455.7" x2="498.95" y2="460.7" stroke="#111" stroke-width="1.35"/>
<text transform="translate(499.3,477.4) scale(1.0,1.04)" font-size="17" text-anchor="middle" fill="#111" stroke="#111" stroke-width="0.1">10.5</text>
<line x1="534.92" y1="455.7" x2="534.92" y2="458.5" stroke="#111" stroke-width="1.35"/>
<line x1="570.90" y1="455.7" x2="570.90" y2="460.7" stroke="#111" stroke-width="1.35"/>
<text transform="translate(571.3,477.4) scale(1.0,1.04)" font-size="17" text-anchor="middle" fill="#111" stroke="#111" stroke-width="0.1">11.0</text>
<line x1="606.88" y1="455.7" x2="606.88" y2="458.5" stroke="#111" stroke-width="1.35"/>
<line x1="642.85" y1="455.7" x2="642.85" y2="460.7" stroke="#111" stroke-width="1.35"/>
<text transform="translate(643.2,477.4) scale(1.0,1.04)" font-size="17" text-anchor="middle" fill="#111" stroke="#111" stroke-width="0.1">11.5</text>
<line x1="679.30" y1="455.7" x2="679.30" y2="458.5" stroke="#111" stroke-width="1.35"/>
<text x="534.4" y="502.3" font-size="17.8" text-anchor="middle" fill="#111" stroke="#111" stroke-width="0.1" >Energy(eV)</text>
<text x="400.0" y="264.2" font-size="24" text-anchor="start" fill="#111" stroke="#111" stroke-width="0.1" >(c)</text>
<circle cx="421.7" cy="436.1" r="6.2" fill="none" stroke="#ee4040" stroke-width="1.9"/>
<circle cx="433.4" cy="436.1" r="6.2" fill="none" stroke="#ee4040" stroke-width="1.9"/>
<circle cx="445.6" cy="434.2" r="6.2" fill="none" stroke="#ee4040" stroke-width="1.9"/>
<circle cx="457.5" cy="432.8" r="6.2" fill="none" stroke="#ee4040" stroke-width="1.9"/>
<circle cx="469.4" cy="433.7" r="6.2" fill="none" stroke="#ee4040" stroke-width="1.9"/>
<circle cx="481.5" cy="436.1" r="6.2" fill="none" stroke="#ee4040" stroke-width="1.9"/>
<circle cx="493.2" cy="434.0" r="6.2" fill="none" stroke="#ee4040" stroke-width="1.9"/>
<circle cx="504.9" cy="436.1" r="6.2" fill="none" stroke="#ee4040" stroke-width="1.9"/>
<circle cx="517.1" cy="431.9" r="6.2" fill="none" stroke="#ee4040" stroke-width="1.9"/>
<circle cx="528.7" cy="435.6" r="6.2" fill="none" stroke="#ee4040" stroke-width="1.9"/>
<circle cx="540.9" cy="435.1" r="6.2" fill="none" stroke="#ee4040" stroke-width="1.9"/>
<circle cx="552.9" cy="434.6" r="6.2" fill="none" stroke="#ee4040" stroke-width="1.9"/>
<circle cx="564.7" cy="434.0" r="6.2" fill="none" stroke="#ee4040" stroke-width="1.9"/>
<circle cx="576.9" cy="436.1" r="6.2" fill="none" stroke="#ee4040" stroke-width="1.9"/>
<circle cx="589.4" cy="430.7" r="6.2" fill="none" stroke="#ee4040" stroke-width="1.9"/>
<circle cx="601.4" cy="434.0" r="6.2" fill="none" stroke="#ee4040" stroke-width="1.9"/>
<circle cx="613.3" cy="431.2" r="6.2" fill="none" stroke="#ee4040" stroke-width="1.9"/>
<circle cx="625.3" cy="382.9" r="6.2" fill="none" stroke="#ee4040" stroke-width="1.9"/>
<circle cx="637.2" cy="388.9" r="6.2" fill="none" stroke="#ee4040" stroke-width="1.9"/>
<circle cx="649.1" cy="331.3" r="6.2" fill="none" stroke="#ee4040" stroke-width="1.9"/>
<path d="M586.8,436.1 C589.3,435.9 588.7,435.7 594.5,435.4 C600.3,435.2 598.9,435.9 604.2,435.4 C609.4,434.9 607.0,435.9 610.2,434.0 C613.4,432.0 611.8,433.3 613.8,429.6 C615.8,425.9 614.6,427.9 616.2,422.9 C617.8,417.8 617.0,420.0 618.6,414.4 C620.3,408.8 619.5,410.8 621.1,405.9 C622.7,401.1 621.5,403.4 623.5,399.9 C625.5,396.4 624.3,398.2 627.1,395.6 C629.9,392.9 628.7,394.9 631.9,391.9 C635.2,389.0 633.9,390.4 636.8,386.6 C639.6,382.8 638.2,385.0 640.4,380.6 C642.6,376.2 641.5,379.0 643.3,373.3 C645.1,367.7 644.1,370.9 645.7,363.7 C647.3,356.4 646.5,359.6 648.1,351.6 C649.7,343.5 648.7,346.8 650.5,339.5 C652.4,332.3 651.4,335.5 653.7,329.9 C655.9,324.2 654.5,328.2 657.3,322.6 C660.1,317.0 659.1,319.0 662.1,312.9 C665.2,306.9 665.0,307.3 666.5,304.5" fill="none" stroke="#000" stroke-width="3" stroke-linejoin="round" stroke-linecap="round"/>
<circle cx="429.1" cy="285.7" r="6.2" fill="none" stroke="#ee4040" stroke-width="1.9"/>
<text x="457.9" y="293.2" font-size="20.7" text-anchor="start" fill="#111" stroke="#111" stroke-width="0.1" >HC(O)OH</text>
<line x1="406.7" y1="311.2" x2="452.4" y2="311.2" stroke="#000" stroke-width="2.7" stroke-linecap="round"/>
<text x="457.9" y="317.7" font-size="20.7" text-anchor="start" fill="#111" stroke="#111" stroke-width="0.1" >Formic acid</text>
<rect x="29.2" y="513.1" width="650.0999999999999" height="149.0" fill="none" stroke="#111" stroke-width="1.7"/>
<text x="37.3" y="540.5" font-size="24" text-anchor="start" fill="#111" stroke="#111" stroke-width="0.1" >(d)</text>
<text x="77.3" y="543.15" font-size="18.2" text-anchor="start" fill="#111" stroke="#111" stroke-width="0.1" >CH<tspan dy="4.37" font-size="12.01">2</tspan><tspan dy="-4.37">O</tspan></text>
<path d="M128,537.1 H166.5 M161.3,532.6 L167.3,537.1 L161.3,541.6" fill="none" stroke="#3c3c3c" stroke-width="2.1" stroke-linejoin="miter"/>
<text x="135.3" y="532.2" font-size="14.3" text-anchor="start" fill="#111" stroke="#111" stroke-width="0.1" >+Ö</text>
<text x="132.0" y="554.6" font-size="14.3" text-anchor="start" fill="#111" stroke="#111" stroke-width="0.1" >-ȮH</text>
<text x="173.9" y="543.15" font-size="18.2" text-anchor="start" fill="#111" stroke="#111" stroke-width="0.1" >HĊO</text>
<path d="M218.3,537.1 H257.4 M252.2,532.6 L258.2,537.1 L252.2,541.6" fill="none" stroke="#3c3c3c" stroke-width="2.1" stroke-linejoin="miter"/>
<text x="223.7" y="531.3" font-size="14.3" text-anchor="start" fill="#111" stroke="#111" stroke-width="0.1" >+O<tspan dy="3.43" font-size="9.44">2</tspan></text>
<text x="272.0" y="543.15" font-size="18.2" text-anchor="start" fill="#111" stroke="#111" stroke-width="0.1" >HC(O)Ȯ<tspan dy="4.37" font-size="12.01">2</tspan></text>
<path d="M348.4,537.1 H387.59999999999997 M382.4,532.6 L388.4,537.1 L382.4,541.6" fill="none" stroke="#3c3c3c" stroke-width="2.1" stroke-linejoin="miter"/>
<text x="347.9" y="529.4" font-size="14.3" text-anchor="start" fill="#111" stroke="#111" stroke-width="0.1" >+HȮ<tspan dy="3.43" font-size="9.44">2</tspan></text>
<text x="401.5" y="543.15" font-size="18.2" text-anchor="start" fill="#111" stroke="#111" stroke-width="0.1" >HC(O)O<tspan dy="4.37" font-size="12.01">4</tspan><tspan dy="-4.37">H</tspan></text>
<path d="M491.2,537.0 H529.9000000000001 M524.7,532.5 L530.7,537.0 L524.7,541.5" fill="none" stroke="#3c3c3c" stroke-width="2.1" stroke-linejoin="miter"/>
<text x="538.8" y="543.15" font-size="18.0" text-anchor="start" fill="#111" stroke="#111" stroke-width="0.1" font-weight="bold">HC(O)OH</text>
<text x="634.1" y="543.75" font-size="19.8" text-anchor="middle" fill="#111" stroke="#111" stroke-width="0.1" >+</text>
<text x="649.7" y="543.15" font-size="18.2" text-anchor="start" fill="#111" stroke="#111" stroke-width="0.1" >O<tspan dy="4.37" font-size="12.01">3</tspan></text>
<text x="77.5" y="593.95" font-size="18.2" text-anchor="start" fill="#111" stroke="#111" stroke-width="0.1" >HȮ<tspan dy="4.37" font-size="12.01">2</tspan></text>
<text x="119.4" y="594.5500000000001" font-size="19.8" text-anchor="middle" fill="#111" stroke="#111" stroke-width="0.1" >+</text>
<text x="129.6" y="593.95" font-size="18.2" text-anchor="start" fill="#111" stroke="#111" stroke-width="0.1" >HȮ<tspan dy="4.37" font-size="12.01">2</tspan></text>
<path d="M173.8,587.1 H213.5 M208.3,582.6 L214.3,587.1 L208.3,591.6" fill="none" stroke="#3c3c3c" stroke-width="2.1" stroke-linejoin="miter"/>
<text x="234.7" y="593.95" font-size="18.2" text-anchor="start" fill="#111" stroke="#111" stroke-width="0.1" font-weight="bold">H<tspan dy="4.37" font-size="12.01">2</tspan><tspan dy="-4.37">O</tspan><tspan dy="4.37" font-size="12.01">2</tspan></text>
<text x="288.4" y="594.5500000000001" font-size="19.8" text-anchor="middle" fill="#111" stroke="#111" stroke-width="0.1" >+</text>
<text x="303" y="593.95" font-size="18.2" text-anchor="start" fill="#111" stroke="#111" stroke-width="0.1" >O<tspan dy="4.37" font-size="12.01">2</tspan></text>
<text x="77.8" y="642.4" font-size="18.2" text-anchor="start" fill="#111" stroke="#111" stroke-width="0.1" >CH<tspan dy="4.37" font-size="12.01">3</tspan><tspan dy="-4.37">O</tspan>H</text>
<path d="M142.0,636.5 H181.2 M176.0,632.0 L182.0,636.5 L176.0,641.0" fill="none" stroke="#3c3c3c" stroke-width="2.1" stroke-linejoin="miter"/>
<text x="149.6" y="630.5" font-size="14.3" text-anchor="start" fill="#111" stroke="#111" stroke-width="0.1" >+Ö</text>
<text x="146.5" y="654.2" font-size="14.3" text-anchor="start" fill="#111" stroke="#111" stroke-width="0.1" >-ȮH</text>
<text x="196.6" y="642.4" font-size="18.2" text-anchor="start" fill="#111" stroke="#111" stroke-width="0.1" >ĊH<tspan dy="4.37" font-size="12.01">2</tspan><tspan dy="-4.37">O</tspan>H</text>
<path d="M270.9,637.8 H310.2 M305.0,633.3 L311.0,637.8 L305.0,642.3" fill="none" stroke="#3c3c3c" stroke-width="2.1" stroke-linejoin="miter"/>
<text x="276.5" y="629.7" font-size="14.3" text-anchor="start" fill="#111" stroke="#111" stroke-width="0.1" >+O<tspan dy="3.43" font-size="9.44">2</tspan></text>
<text x="331.0" y="642.4" font-size="18.2" text-anchor="start" fill="#111" stroke="#111" stroke-width="0.1" font-weight="bold">CH<tspan dy="4.37" font-size="12.01">2</tspan><tspan dy="-4.37">O</tspan></text>
<text x="393" y="643.0" font-size="19.8" text-anchor="middle" fill="#111" stroke="#111" stroke-width="0.1" >+</text>
<text x="407.5" y="642.4" font-size="18.2" text-anchor="start" fill="#111" stroke="#111" stroke-width="0.1" >HȮ<tspan dy="4.37" font-size="12.01">2</tspan></text>
</svg>
</body></html>
